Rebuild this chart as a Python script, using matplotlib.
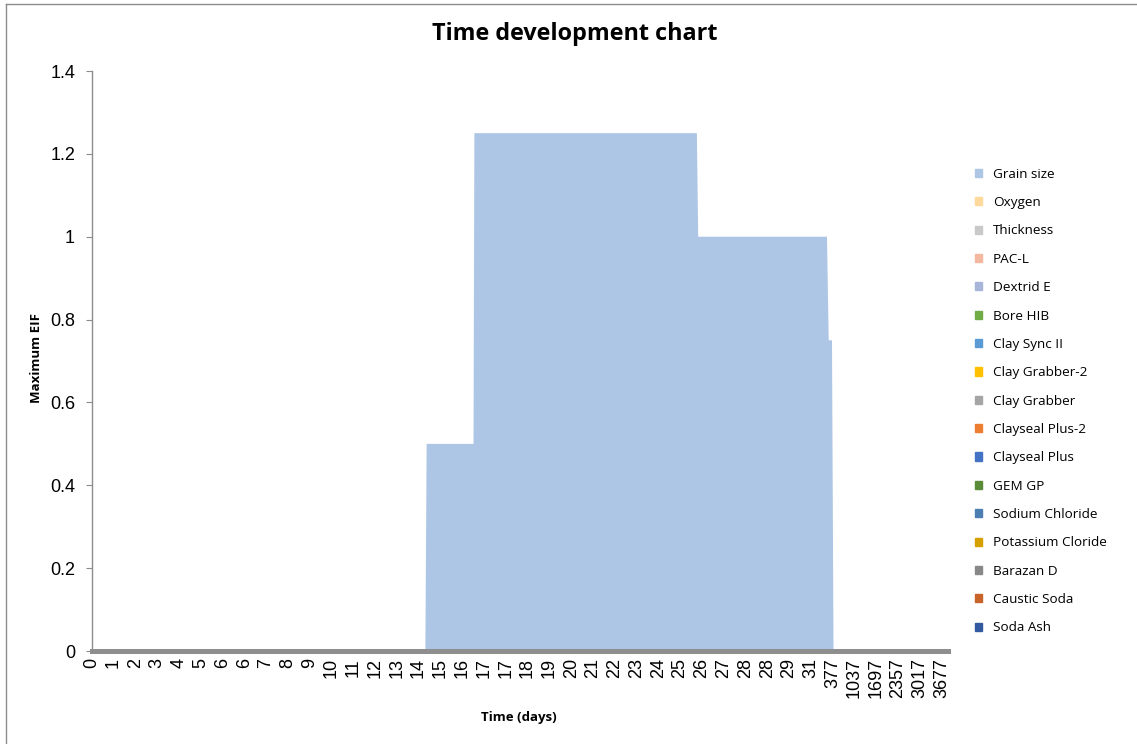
"""Time development chart: maximum EIF per component over time (stacked area)."""

import matplotlib
matplotlib.use("Agg")
import matplotlib.pyplot as plt
import matplotlib.patches as mpatches
import numpy as np

# ── Data ─────────────────────────────────────────────────────────────────
# x-axis categories as shown on the chart (time in days)
TIME_LABELS = ["0", "1", "2", "3", "4", "5", "6", "6", "7", "8", "9", "10",
               "11", "12", "13", "14", "15", "16", "17", "17", "18", "19",
               "20", "21", "22", "23", "24", "25", "26", "27", "28", "28",
               "29", "31", "377", "1037", "1697", "2357", "3017", "3677"]

# Grain size series, read as (category position, value) breakpoints
GRAIN_POS = [0.0, 15.31, 15.37, 17.52, 17.56, 27.77, 27.83, 33.74, 33.82,
             33.97, 34.04, 39.0]
GRAIN_EIF = [0.0, 0.0, 0.5, 0.5, 1.25, 1.25, 1.0, 1.0, 0.75, 0.75, 0.0, 0.0]

SERIES = ["Grain size", "Oxygen", "Thickness", "PAC-L", "Dextrid E",
          "Bore HIB", "Clay Sync II", "Clay Grabber-2", "Clay Grabber",
          "Clayseal Plus-2", "Clayseal Plus", "GEM GP", "Sodium Chloride",
          "Potassium Cloride", "Barazan D", "Caustic Soda", "Soda Ash"]

COLORS = ["#AEC6E5", "#FFD89B", "#C9C9C9", "#F4B7A0", "#A8B5DB",
          "#70AD47", "#5B9BD5", "#FFC000", "#A5A5A5", "#ED7D31",
          "#4472C4", "#5A8B38", "#4C7EB2", "#D6A100", "#888888",
          "#C8632A", "#335AA0"]

Y_TICKS = [0, 0.2, 0.4, 0.6, 0.8, 1.0, 1.2, 1.4]
Y_TICK_LABELS = ["0", "0.2", "0.4", "0.6", "0.8", "1", "1.2", "1.4"]

# ── Figure ───────────────────────────────────────────────────────────────
W, H = 1137, 744
fig = plt.figure(figsize=(W / 100, H / 100), dpi=100)
ax = fig.add_axes([91.7 / W, 1 - 651 / H, (947.5 - 91.7) / W, (651 - 71) / H])

# stacked areas: every component except grain size stays at zero
x = np.array(GRAIN_POS)
stack = [np.array(GRAIN_EIF)] + [np.zeros_like(x) for _ in SERIES[1:]]
ax.stackplot(x, *stack, colors=COLORS, linewidth=0)

ax.set_xlim(0, 39.27)
ax.set_ylim(0, 1.4)

# axes styling (Excel look)
for side in ("top", "right"):
    ax.spines[side].set_visible(False)
ax.spines["left"].set_color("#8C8C8C")
ax.spines["left"].set_linewidth(1.0)
ax.spines["bottom"].set_color("#8E8E8E")
ax.spines["bottom"].set_linewidth(3.6)
ax.spines["left"].set_zorder(3)

ax.set_yticks(Y_TICKS)
ax.set_yticklabels(Y_TICK_LABELS, fontsize=13, family="Liberation Sans")
ax.tick_params(axis="y", direction="out", length=4, color="#8C8C8C", pad=8)

ax.set_xticks(range(len(TIME_LABELS)))
ax.set_xticklabels(TIME_LABELS, rotation=90, fontsize=13,
                   family="Liberation Sans")
ax.tick_params(axis="x", length=0, pad=5)

fig.text(36 / W, 1 - 358 / H, "Maximum EIF", rotation=90, ha="center",
         va="center", fontsize=9.5, fontweight="bold", family="Open Sans")
fig.text(519 / W, 1 - 718 / H, "Time (days)", ha="center", va="center",
         fontsize=9.5, fontweight="bold", family="Open Sans")

fig.text(575 / W, 1 - 34 / H, "Time development chart", ha="center",
         va="center", fontsize=16.8, fontweight="bold", family="Open Sans")

# legend
handles = [mpatches.Patch(color=c, label=s) for s, c in zip(SERIES, COLORS)]
fig.legend(handles=handles, loc="upper left",
           bbox_to_anchor=(968 / W, 1 - 161 / H), frameon=False,
           prop={"family": "Open Sans", "size": 9.7},
           handlelength=0.55, handleheight=0.55, handletextpad=0.8,
           labelspacing=1.14, borderpad=0)

# outer chart border (top and left visible)
fig.add_artist(plt.Line2D([6 / W, 1.0], [1 - 4 / H, 1 - 4 / H],
                          transform=fig.transFigure, color="#8C8C8C", lw=1))
fig.add_artist(plt.Line2D([6 / W, 6 / W], [0.0, 1 - 4 / H],
                          transform=fig.transFigure, color="#8C8C8C", lw=1))

fig.savefig("out.png", dpi=100)
